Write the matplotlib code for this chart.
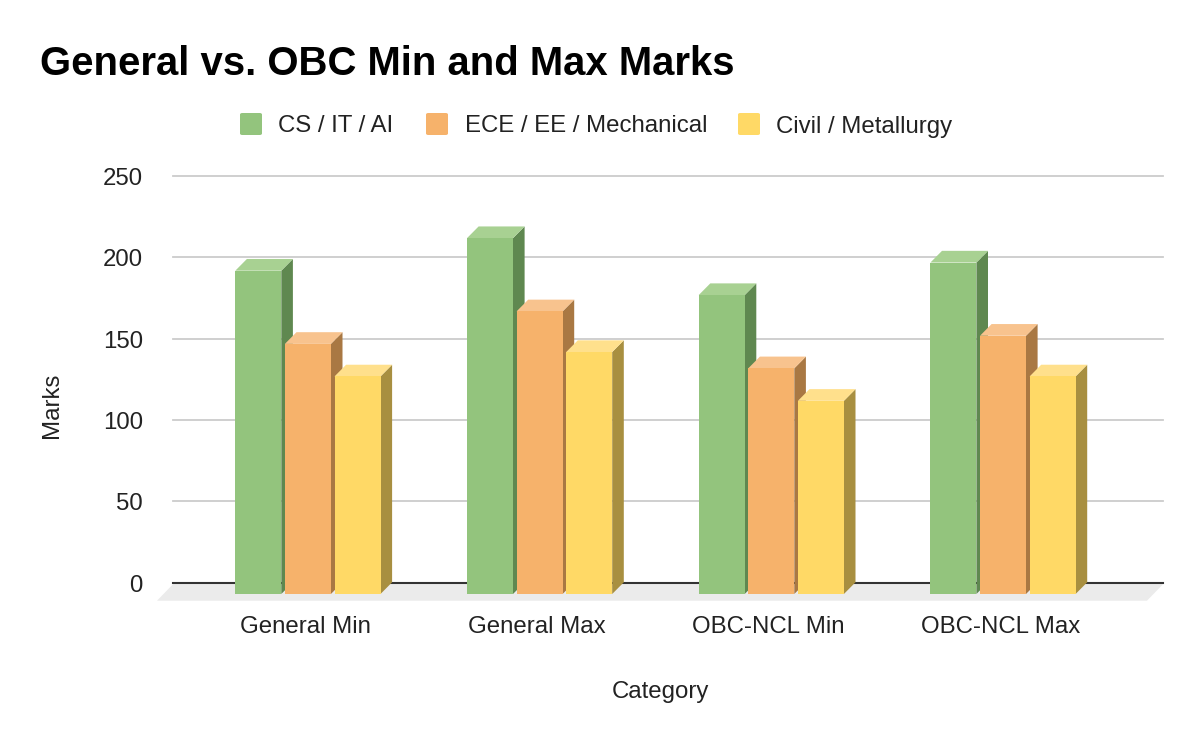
import matplotlib
matplotlib.use("Agg")
import matplotlib.pyplot as plt
from matplotlib.patches import Polygon, Rectangle, FancyBboxPatch
import matplotlib.transforms as mtrans

# ---------------- data ----------------
categories = ["General Min", "General Max", "OBC-NCL Min", "OBC-NCL Max"]
series_names = ["CS / IT / AI", "ECE / EE / Mechanical", "Civil / Metallurgy"]
cs_it_ai = [195, 215, 180, 200]
ece_ee_mech = [150, 170, 135, 155]
civil_met = [130, 145, 115, 130]
y_ticks = [0, 50, 100, 150, 200, 250]
title = "General vs. OBC Min and Max Marks"
x_label = "Category"
y_label = "Marks"

# ---------------- styles ----------------
front_cols = ["#93c47d", "#f6b26b", "#ffd966"]
top_cols = ["#a8d192", "#f8c38e", "#ffe08c"]
side_cols = ["#5f8850", "#a97843", "#a88f40"]

W, H = 1200, 742
FONT = "Liberation Sans"
plt.rcParams["font.family"] = [FONT, "DejaVu Sans"]

fig = plt.figure(figsize=(W / 100, H / 100), dpi=100)
fig.patch.set_facecolor("white")

ax_left, ax_right = 173, 1163
y0_px, y250_px = 582.7, 176.0
ax = fig.add_axes([ax_left / W, (H - y0_px) / H, (ax_right - ax_left) / W, (y0_px - y250_px) / H])
px_per_unit = (y0_px - y250_px) / 250.0
stride_px = 231.7
first_center_px = 307.9
xl = (ax_left - first_center_px) / stride_px
xr = (ax_right - first_center_px) / stride_px
ax.set_xlim(xl, xr)
ax.set_ylim(0, 250)
ax.axis("off")

# 3D geometry (in data units)
pitch = 49.6 / stride_px
bw = 46.0 / stride_px
dx = 11.6 / stride_px
dy = 11.7 / px_per_unit
front_bottom = -11.3 / px_per_unit
top_shift = -3.2

# floor
fl_off = 16.0 / stride_px
floor_top = -1.5 / px_per_unit
floor_bot = -18.0 / px_per_unit
ax.add_patch(Polygon([(xl, floor_top), (xr, floor_top), (xr - fl_off, floor_bot), (xl - fl_off, floor_bot)],
                     closed=True, facecolor="#ebebeb", edgecolor="none", zorder=1, clip_on=False))

# gridlines
for t in y_ticks[1:]:
    ax.plot([xl, xr], [t, t], color="#cccccc", lw=1.3, zorder=0.5, clip_on=False)
ax.plot([xl, xr], [0, 0], color="#333333", lw=1.5, zorder=2, clip_on=False)

# bars
all_series = [cs_it_ai, ece_ee_mech, civil_met]
z = 3
for i in range(len(categories)):
    for j, vals in enumerate(all_series):
        v = vals[i]
        cx = i + (j - 1) * pitch
        x0, x1 = cx - bw / 2, cx + bw / 2
        yt = v + top_shift
        yb = front_bottom
        # side
        ax.add_patch(Polygon([(x1, yb), (x1 + dx, yb + dy), (x1 + dx, yt + dy), (x1, yt)],
                             closed=True, facecolor=side_cols[j], edgecolor="none", zorder=z, clip_on=False))
        # top
        ax.add_patch(Polygon([(x0, yt), (x1, yt), (x1 + dx, yt + dy), (x0 + dx, yt + dy)],
                             closed=True, facecolor=top_cols[j], edgecolor="none", zorder=z, clip_on=False))
        # front
        ax.add_patch(Polygon([(x0, yb), (x1, yb), (x1, yt), (x0, yt)],
                             closed=True, facecolor=front_cols[j], edgecolor="none", zorder=z + 0.1, clip_on=False))
        z += 1

# y tick labels
ytrans = ax.get_yaxis_transform()
lab_x = (143 - ax_left) / (ax_right - ax_left)
base_off = 9.0 / px_per_unit
for t in y_ticks:
    ax.text(lab_x, t - base_off, str(t), transform=ytrans, ha="right", va="baseline",
            fontsize=17.3, color="#222222", clip_on=False)

# x tick labels
xtrans = ax.get_xaxis_transform()
lab_y = (y0_px - 633) / (y0_px - y250_px)
for i, c in enumerate(categories):
    ax.text(i - 0.012, lab_y, c, transform=xtrans, ha="center", va="baseline",
            fontsize=17.3, color="#222222", clip_on=False)

def fx(px):
    return px / W

def fy(py):
    return (H - py) / H

# title
fig.text(fx(40), fy(75), title, ha="left", va="baseline", fontsize=28.9, fontweight="bold", color="#000000")

# axis titles
fig.text(fx(660), fy(698), x_label, ha="center", va="baseline", fontsize=17.3, color="#222222")
fig.text(fx(52), fy(405), y_label, ha="center", va="center", rotation=90, fontsize=17.3, color="#222222")

# legend
sw_x = [240, 426, 738]
tx_x = [278, 465, 776]
for j, name in enumerate(series_names):
    fig.patches.append(FancyBboxPatch((fx(sw_x[j]), fy(135)), 22 / W, 22 / H,
                                      boxstyle="round,pad=0,rounding_size=0.002",
                                      transform=fig.transFigure, facecolor=front_cols[j], edgecolor="none"))
    fig.text(fx(tx_x[j]), fy(132.5), name, ha="left", va="baseline", fontsize=17.3, color="#222222")

fig.savefig("out.png", dpi=100, facecolor="white")
